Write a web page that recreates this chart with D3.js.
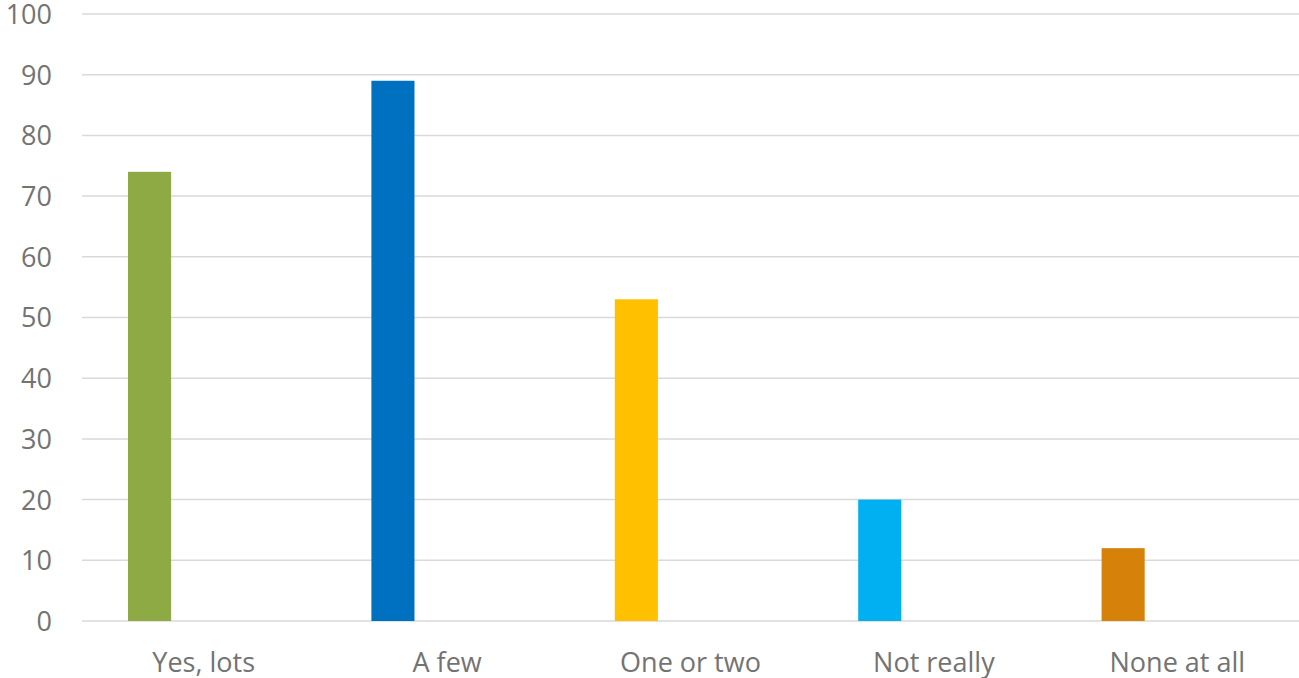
<!DOCTYPE html>
<html>
<head>
<meta charset="utf-8">
<script src="https://cdn.jsdelivr.net/npm/d3@7"></script>
<style>
  html, body { margin: 0; padding: 0; background: #fff; }
  svg { display: block; }
</style>
</head>
<body>
<svg id="chart" width="1299" height="678"></svg>
<script>
const categories = ["Yes, lots", "A few", "One or two", "Not really", "None at all"];
const values = [74, 89, 53, 20, 12];
const colors = ["#8DAA44", "#0070C0", "#FFC000", "#00B0F0", "#D6820A"];
const yTicks = [0, 10, 20, 30, 40, 50, 60, 70, 80, 90, 100];

const svg = d3.select("#chart");
const mLeft = 82, mRight = 1299, mTop = 14, mBottom = 621;
const font = "'Open Sans', sans-serif";
const textColor = "#737373";

const x = d3.scaleBand().domain(categories).range([mLeft, mRight]).paddingInner(0).paddingOuter(0);
const y = d3.scaleLinear().domain([0, 100]).range([mBottom, mTop]);

// gridlines
svg.append("g").selectAll("line").data(yTicks).join("line")
  .attr("x1", mLeft).attr("x2", mRight)
  .attr("y1", d => y(d)).attr("y2", d => y(d))
  .attr("stroke", "#D9D9D9").attr("stroke-width", 1.5);

// y axis labels
const yAxis = d3.axisLeft(y).tickValues(yTicks).tickSize(0).tickPadding(0);
const yg = svg.append("g").attr("transform", `translate(${mLeft - 30},0)`).call(yAxis);
yg.select(".domain").remove();
yg.selectAll("text").attr("font-family", font).attr("font-size", 27)
  .attr("fill", textColor).attr("text-anchor", "end").attr("dy", "0.35em");

// bars (first series of a two-series cluster; second empty)
const bw = x.bandwidth();
svg.append("g").selectAll("rect").data(values).join("rect")
  .attr("x", (d, i) => x(categories[i]) + bw * 0.189)
  .attr("width", bw * 0.177)
  .attr("y", d => y(d))
  .attr("height", d => y(0) - y(d))
  .attr("fill", (d, i) => colors[i]);

// x axis labels
const xAxis = d3.axisBottom(x).tickSize(0).tickPadding(0);
const xg = svg.append("g").attr("transform", `translate(0,${mBottom})`).call(xAxis);
xg.select(".domain").remove();
xg.selectAll("text").attr("font-family", font).attr("font-size", 27)
  .attr("fill", textColor).attr("dy", null).attr("y", 51);
</script>
</body>
</html>
